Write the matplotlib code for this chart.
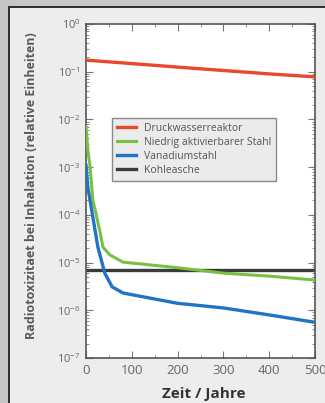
import matplotlib
matplotlib.use('Agg')
import matplotlib.pyplot as plt
from matplotlib.patches import Rectangle
from matplotlib.ticker import LogLocator, MultipleLocator, NullFormatter

plt.rcParams['font.family'] = ['Open Sans', 'DejaVu Sans']
plt.rcParams['mathtext.fontset'] = 'custom'
plt.rcParams['mathtext.rm'] = 'Open Sans'
plt.rcParams['mathtext.it'] = 'Open Sans'

# --- data ---
red_x = [0, 100, 200, 300, 400, 500]
red_y = [0.175, 0.148, 0.125, 0.106, 0.090, 0.078]

green_x = [0, 4, 9, 15, 20, 31, 37, 52, 81, 200, 300, 400, 500]
green_y = [7.0e-3, 2.3e-3, 1.0e-3, 2.0e-4, 1.26e-4, 4.2e-5, 2.1e-5, 1.45e-5,
           1.02e-5, 7.8e-6, 6.0e-6, 5.2e-6, 4.3e-6]

blue_x = [0, 4, 15, 26, 41, 57, 81, 200, 300, 400, 500]
blue_y = [1.1e-3, 3.8e-4, 8.9e-5, 2.1e-5, 6.0e-6, 3.1e-6, 2.3e-6,
          1.4e-6, 1.12e-6, 8.0e-7, 5.6e-7]

black_x = [0, 500]
black_y = [6.9e-6, 6.9e-6]

labels = ['Druckwasserreaktor', 'Niedrig aktivierbarer Stahl',
          'Vanadiumstahl', 'Kohleasche']
colors = ['#e8482c', '#78c043', '#1f74c4', '#3a3a3a']

fig = plt.figure(figsize=(3.25, 4.03), dpi=100, facecolor='#c6c6c6')
# light panel with dark frame
panel = Rectangle((9 / 325, -0.05), 1.2, 1 - 7 / 403 + 0.05,
                  transform=fig.transFigure, facecolor='#ededed',
                  edgecolor='#111111', linewidth=1.2, zorder=-10)
fig.add_artist(panel)

ax = fig.add_axes([86 / 325, 1 - 358 / 403, 229 / 325, 334 / 403])
ax.set_facecolor('white')

ax.plot(black_x, black_y, color=colors[3], lw=2.4, label=labels[3], zorder=2)
ax.plot(red_x, red_y, color=colors[0], lw=2.4, label=labels[0], zorder=3)
ax.plot(green_x, green_y, color=colors[1], lw=2.2, label=labels[1], zorder=3)
ax.plot(blue_x, blue_y, color=colors[2], lw=2.4, label=labels[2], zorder=4)

ax.set_yscale('log')
ax.set_xlim(0, 500)
ax.set_ylim(1e-7, 1)
ax.xaxis.set_major_locator(MultipleLocator(100))
ax.xaxis.set_minor_locator(MultipleLocator(50))
ax.yaxis.set_minor_locator(LogLocator(base=10, subs=range(2, 10), numticks=10))
ax.yaxis.set_minor_formatter(NullFormatter())
ax.set_yticks([10.0 ** -k for k in range(8)])
ax.set_yticklabels([r'$10^{%d}$' % (-k) for k in range(8)])

ax.tick_params(which='both', direction='in', top=True, right=True,
               colors='#777777', labelcolor='#666666')
ax.tick_params(which='major', length=5, width=0.8)
ax.tick_params(which='minor', length=2.5, width=0.6)
ax.tick_params(axis='y', labelsize=8, pad=4)
ax.tick_params(axis='x', labelsize=9.5, pad=4)
for s in ax.spines.values():
    s.set_color('#555555')
    s.set_linewidth(1.2)

ax.set_xlabel('Zeit / Jahre', fontsize=11, fontweight='bold', color='#333333')
ax.xaxis.set_label_coords(0.515, -0.108)
ax.xaxis.label.set_va('center')
ax.set_ylabel('Radiotoxizitaet bei Inhalation (relative Einheiten)', fontsize=9,
              fontweight='bold', color='#5a5a5a', va='center')
ax.yaxis.set_label_coords(-0.236, 0.515)

handles, labs = ax.get_legend_handles_labels()
order = [labs.index(l) for l in labels]
leg = ax.legend([handles[i] for i in order], [labs[i] for i in order],
                loc='upper left', bbox_to_anchor=(0.1135, 0.7186), borderaxespad=0,
                fontsize=7.5, frameon=True, fancybox=False, framealpha=1,
                facecolor='#ebebeb', edgecolor='#8a8a8a',
                handlelength=1.9, handletextpad=0.75, borderpad=0.45,
                labelspacing=0.3)
leg.get_frame().set_linewidth(1.0)
for t in leg.get_texts():
    t.set_color('#555555')

fig.savefig('out.png', dpi=100, facecolor=fig.get_facecolor())
